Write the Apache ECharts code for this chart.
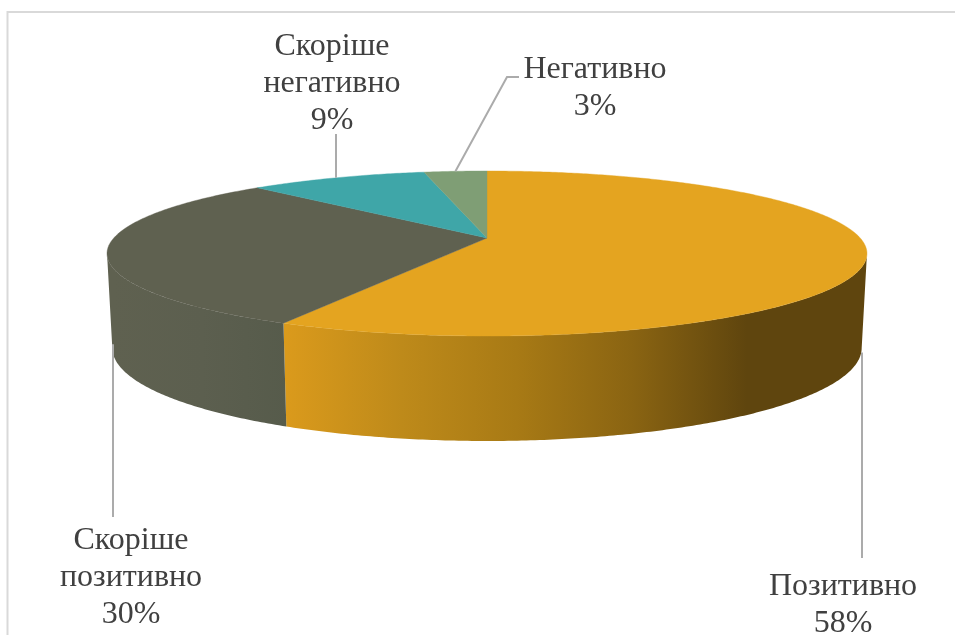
<!DOCTYPE html>
<html><head><meta charset="utf-8">
<style>html,body{margin:0;padding:0;background:#fff}#c{width:955px;height:635px}</style>
<script src="https://cdn.jsdelivr.net/npm/echarts@6/dist/echarts.min.js"></script>
</head><body><div id="c"></div>
<script>
const categories = ['Позитивно', 'Скоріше\nпозитивно', 'Скоріше\nнегативно', 'Негативно'];
const shares = [57.5, 30.2, 9.1, 3.2];

// styles
const topColors = ['#E4A420', '#5F6150', '#3FA6A8', '#7F9E75'];
const wallStops = [
  [[0, '#DA9A1C'], [0.2, '#BE8A1A'], [0.4, '#A87A15'], [0.6, '#8A6412'], [0.8, '#5F450E'], [1, '#5F450E']],
  [[0, '#5F6150'], [0.5, '#5C5F4F'], [1, '#565B4B']],
  [[0, '#2E7B7C'], [1, '#2E7B7C']],
  [[0, '#5E7556'], [1, '#5E7556']]
];
const wallRange = [[286, 862], [113, 290], [300, 430], [430, 487]];
// projection of the tilted disc
const CX = 487, K = 0.188;
const TOP = {ax: 373.2, bx: 79.6, cy: 238};
const BOT = {ax: 368, bx: 89.7, cy: 330.5};
function proj(d, t) {
  const den = 1 + K * Math.cos(t);
  return [CX + d.ax * Math.sin(t) / den, d.cy - d.bx * Math.cos(t) / den];
}
// part of the rim that faces the viewer
const FRONT_A = Math.acos(-K), FRONT_B = 2 * Math.PI - FRONT_A;
// label layout
const labelPos = [[843, 605], [131, 577.5], [332, 83.5], [595, 88]];
const leaderEnd = [[[862, 558]], [[113, 517]], [[336, 134]], [[507, 77], [519, 77]]];
const leaderFromBottom = [true, true, false, false];

const total = shares.reduce((a, b) => a + b, 0);
const rows = shares.map((v, i) => {
  const before = shares.slice(0, i).reduce((a, b) => a + b, 0);
  return [i, before / total * Math.PI * 2, (before + v) / total * Math.PI * 2];
});
function arc(d, a, b) {
  const n = Math.max(4, Math.ceil((b - a) / 0.01)), p = [];
  for (let i = 0; i <= n; i++) p.push(proj(d, a + (b - a) * i / n));
  return p;
}
function wall(params, api) {
  const i = api.value(0), r = wallRange[i];
  const a = Math.max(api.value(1), FRONT_A), b = Math.min(api.value(2), FRONT_B);
  if (a >= b) return null;
  const fill = new echarts.graphic.LinearGradient(r[0], 0, r[1], 0,
    wallStops[i].map(s => ({offset: s[0], color: s[1]})), true);
  return {type: 'polygon', shape: {points: arc(TOP, a, b).concat(arc(BOT, a, b).reverse())},
    style: {fill: fill}};
}
function face(params, api) {
  const i = api.value(0), a = api.value(1), b = api.value(2);
  return {type: 'polygon', shape: {points: [[CX, TOP.cy]].concat(arc(TOP, a, b))},
    style: {fill: topColors[i], stroke: topColors[i], lineWidth: 0.4}};
}
function note(params, api) {
  const i = api.value(0), m = (api.value(1) + api.value(2)) / 2;
  const start = proj(leaderFromBottom[i] ? BOT : TOP, m);
  if (leaderEnd[i].length === 1) start[0] = leaderEnd[i][0][0];
  const pct = Math.round(shares[i]) + '%';
  return {type: 'group', children: [
    {type: 'polyline', shape: {points: [start].concat(leaderEnd[i])},
      style: {fill: null, stroke: '#ABABAB', lineWidth: 2}},
    {type: 'text', x: labelPos[i][0], y: labelPos[i][1],
      style: {text: categories[i] + '\n' + pct, fill: '#404040', align: 'center', verticalAlign: 'middle',
        font: '32px "Liberation Serif"', lineHeight: 37}}
  ]};
}
const chart = echarts.init(document.getElementById('c'), null, {renderer: 'canvas'});
chart.setOption({
  animation: false,
  backgroundColor: '#fff',
  graphic: [{type: 'rect', z: 0, shape: {x: 7.5, y: 12, width: 960, height: 640},
    style: {fill: '#fff', stroke: '#D9D9D9', lineWidth: 2}}],
  series: [
    {type: 'custom', coordinateSystem: 'none', data: rows, renderItem: wall, z: 2, silent: true},
    {type: 'custom', coordinateSystem: 'none', data: rows, renderItem: face, z: 3, silent: true},
    {type: 'custom', coordinateSystem: 'none', data: rows, renderItem: note, z: 4, silent: true}
  ]
});
</script></body></html>
